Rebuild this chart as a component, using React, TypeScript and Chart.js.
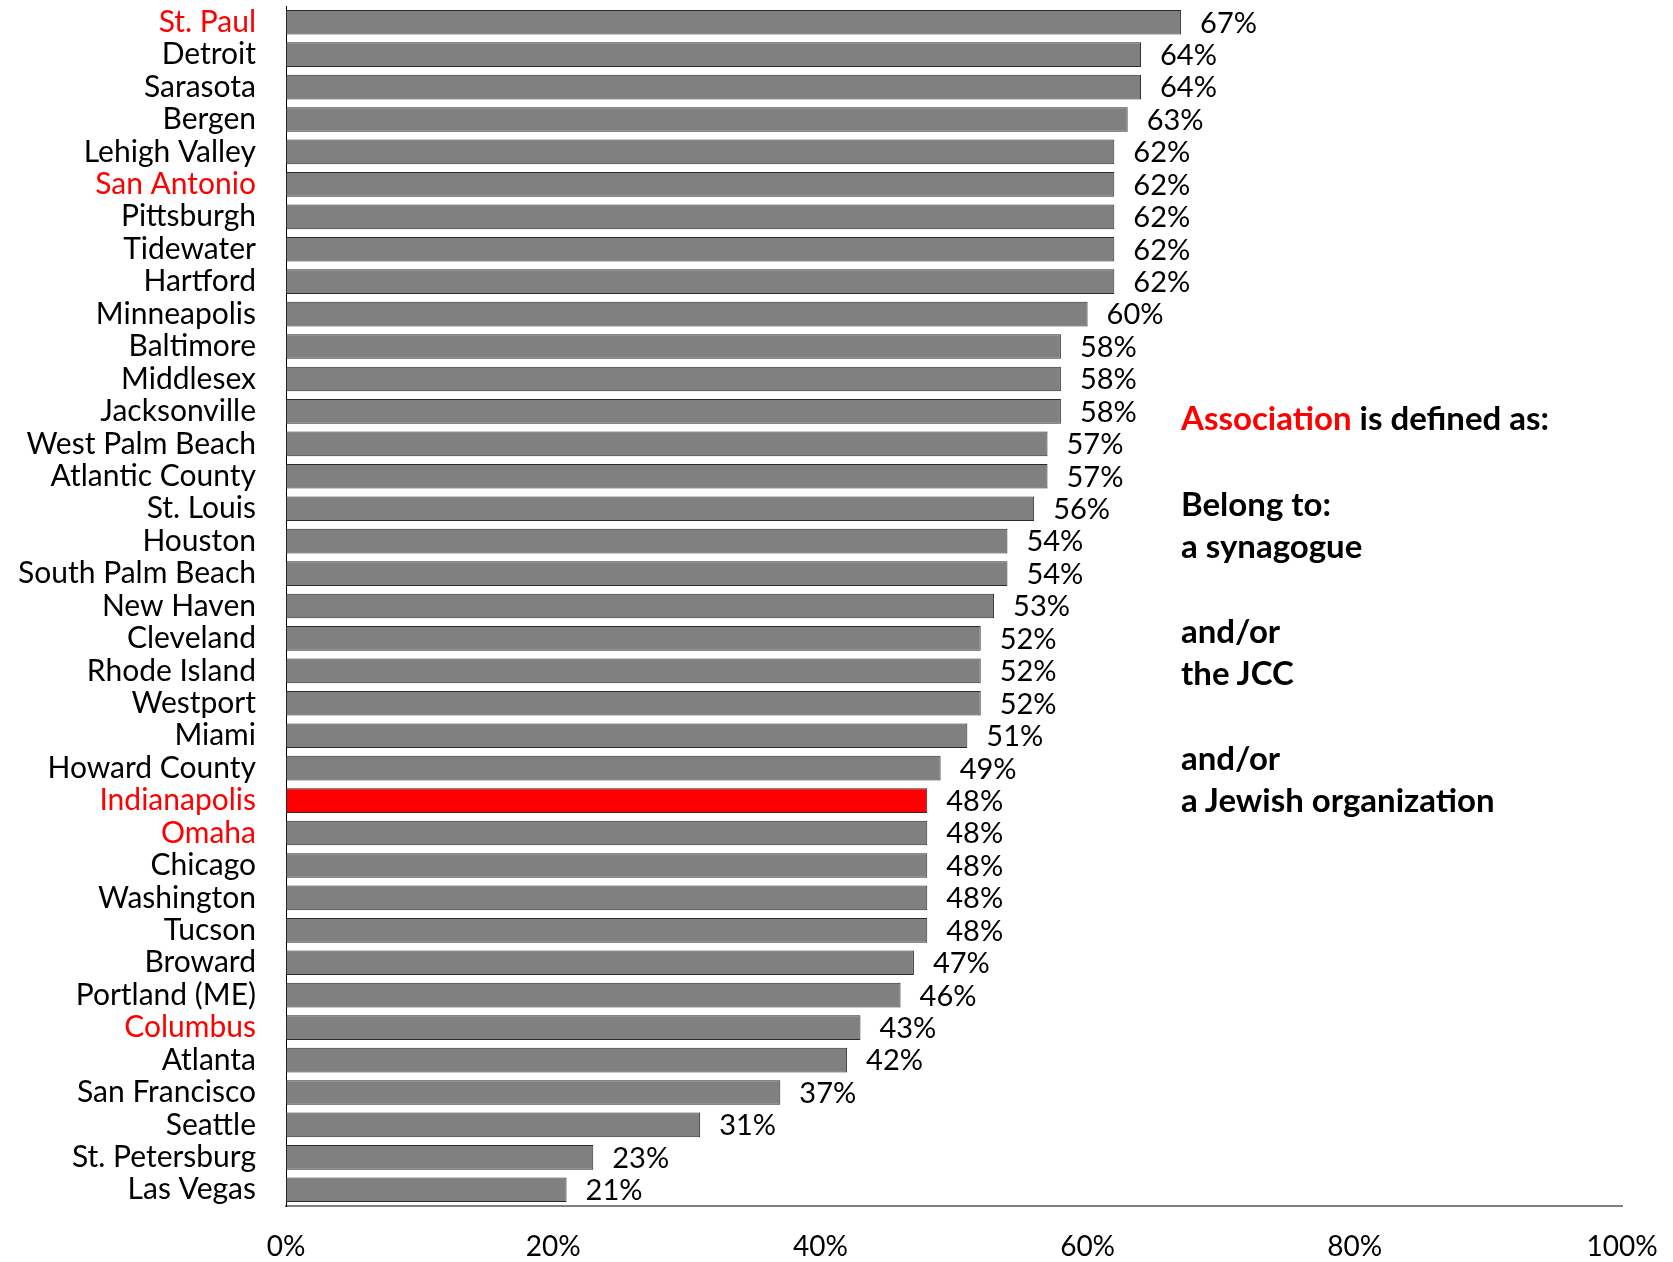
import React, { useEffect, useRef } from "react";
import { Chart, registerables } from "chart.js";

Chart.register(...registerables);

const categories = [
  "St. Paul", "Detroit", "Sarasota", "Bergen", "Lehigh Valley", "San Antonio",
  "Pittsburgh", "Tidewater", "Hartford", "Minneapolis", "Baltimore", "Middlesex",
  "Jacksonville", "West Palm Beach", "Atlantic County", "St. Louis", "Houston",
  "South Palm Beach", "New Haven", "Cleveland", "Rhode Island", "Westport", "Miami",
  "Howard County", "Indianapolis", "Omaha", "Chicago", "Washington", "Tucson",
  "Broward", "Portland (ME)", "Columbus", "Atlanta", "San Francisco", "Seattle",
  "St. Petersburg", "Las Vegas",
];

const values = [
  67, 64, 64, 63, 62, 62, 62, 62, 62, 60, 58, 58, 58, 57, 57, 56, 54, 54, 53, 52,
  52, 52, 51, 49, 48, 48, 48, 48, 48, 47, 46, 43, 42, 37, 31, 23, 21,
];

const redLabels = ["St. Paul", "San Antonio", "Indianapolis", "Omaha", "Columbus"];
const highlighted = ["Indianapolis"];

const xTicks = [0, 20, 40, 60, 80, 100];

const noteLines = [
  { text: "Belong to:", y: 503 },
  { text: "a synagogue", y: 545 },
  { text: "and/or", y: 630 },
  { text: "the JCC", y: 672 },
  { text: "and/or", y: 757 },
  { text: "a Jewish organization", y: 799 },
];

const FONT = "Lato, 'Open Sans', sans-serif";

const dataLabelPlugin = {
  id: "dataLabels",
  afterDatasetsDraw(chart: any) {
    const ctx = chart.ctx;
    const meta = chart.getDatasetMeta(0);
    ctx.save();
    ctx.font = `29px ${FONT}`;
    ctx.fillStyle = "#000";
    ctx.textAlign = "left";
    ctx.textBaseline = "middle";
    meta.data.forEach((bar: any, i: number) => {
      ctx.fillText(values[i] + "%", bar.x + 19, bar.y + 1);
    });
    ctx.restore();
  },
};

export default function App() {
  const ref = useRef<HTMLCanvasElement>(null);

  useEffect(() => {
    if (!ref.current) return;
    const chart = new Chart(ref.current, {
      type: "bar",
      data: {
        labels: categories,
        datasets: [
          {
            data: values,
            backgroundColor: categories.map((c) =>
              highlighted.includes(c) ? "#FF0000" : "#808080"
            ),
            borderColor: "#2a2a2a",
            borderWidth: 1,
            borderSkipped: false,
            barPercentage: 0.76,
            categoryPercentage: 1,
          },
        ],
      },
      options: {
        indexAxis: "y",
        animation: false,
        responsive: false,
        maintainAspectRatio: false,
        layout: { padding: { left: 0, top: 6, right: 51, bottom: 0 } },
        plugins: {
          legend: { display: false },
          tooltip: { enabled: false },
        },
        scales: {
          x: {
            min: 0,
            max: 100,
            afterBuildTicks(scale: any) {
              scale.ticks = xTicks.map((v) => ({ value: v }));
            },
            afterFit(scale: any) {
              scale.height = 56;
              scale.paddingLeft = 0;
              scale.paddingRight = 0;
            },
            grid: { display: false, drawTicks: false },
            border: { display: true, color: "#808080", width: 2 },
            ticks: {
              padding: 24,
              color: "#000",
              font: { family: FONT, size: 28 },
              callback: (v: any) => v + "%",
              maxRotation: 0,
            },
          },
          y: {
            afterFit(scale: any) {
              scale.width = 286;
              scale.paddingTop = 0;
              scale.paddingBottom = 0;
            },
            grid: { display: false, drawTicks: false },
            border: { display: true, color: "#000", width: 1 },
            ticks: {
              padding: 30,
              autoSkip: false,
              color: (ctx: any) =>
                redLabels.includes(categories[ctx.index]) ? "#FF0000" : "#000",
              font: { family: FONT, size: 30 },
            },
          },
        },
      },
      plugins: [dataLabelPlugin],
    });
    return () => chart.destroy();
  }, []);

  const noteStyle: React.CSSProperties = {
    position: "absolute",
    left: 1181,
    transform: "translateY(-50%)",
    fontWeight: 700,
    fontSize: 33,
    whiteSpace: "nowrap",
    lineHeight: 1,
  };

  return (
    <div
      style={{
        position: "fixed",
        left: 0,
        top: 0,
        width: 1673,
        height: 1262,
        background: "#fff",
        fontFamily: FONT,
      }}
    >
      <canvas ref={ref} width={1673} height={1262} style={{ display: "block" }} />
      <div style={{ ...noteStyle, top: 417 }}>
        <span style={{ color: "#FF0000" }}>Association</span> is defined as:
      </div>
      {noteLines.map((l, i) => (
        <div key={i} style={{ ...noteStyle, top: l.y }}>
          {l.text}
        </div>
      ))}
    </div>
  );
}
